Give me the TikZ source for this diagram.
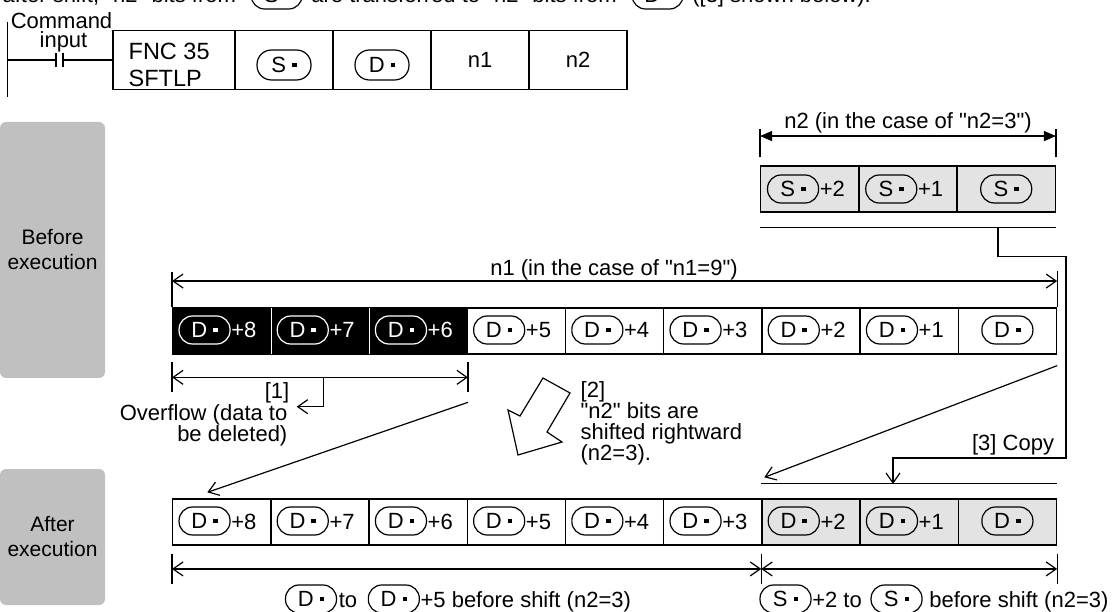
\documentclass[tikz,border=0pt]{standalone}
\usepackage{fontspec}
\setmainfont{Liberation Sans}[Ligatures=TeXOff]
\usepackage{tikz}
\usetikzlibrary{positioning,arrows.meta}

\definecolor{stagegray}{HTML}{C0C0C0}
\definecolor{cellshade}{HTML}{E3E3E3}

% operand symbol: letter plus small square dot
\newcommand{\opsym}[1]{#1\hspace{6pt}\rule[5.5pt]{4.5pt}{4.5pt}}

\begin{document}
\begin{tikzpicture}[
  x=1pt, y=-1pt,
  font=\fontsize{22}{22}\selectfont,
  line width=1.3pt,
  stage/.style={fill=stagegray, rounded corners=6pt, minimum width=105pt, text width=100pt, align=center, inner sep=0pt, font=\fontsize{21}{25}\selectfont},
  insn/.style={draw, line width=1.5pt, minimum width=98pt, minimum height=59pt, inner sep=0pt, text height=16pt, text depth=0pt},
  cell/.style={draw, minimum width=98.2pt, minimum height=46pt, inner sep=0pt},
  opnd/.style={draw, rounded corners=13.5pt, minimum width=51pt, minimum height=28pt, inner sep=0pt, line width=1.2pt},
  lbl/.style={inner sep=0pt, text height=19pt, text depth=3pt},
  txt/.style={inner sep=0pt, font=\fontsize{22}{21}\selectfont},
  dimline/.style={{Straight Barb[length=10pt,width=14pt]}-{Straight Barb[length=10pt,width=14pt]}, line width=1.2pt},
  dimfill/.style={{Triangle[length=12pt,width=10pt]}-{Triangle[length=12pt,width=10pt]}, line width=1.2pt},
  conn/.style={-{Straight Barb[length=10pt,width=14pt]}, line width=1.2pt}
]
% Page frame (pixel grid, y grows downward)
\useasboundingbox (0,0) rectangle (1117,612);
\clip (0,0) rectangle (1117,612);

% Sentence above, cut off by the top edge
\node[lbl, anchor=base west] (hd1) at (2,3) {after shift, "n2" bits from};
\node[opnd, right=14pt of hd1] (hds) {\opsym{S}};
\node[lbl, right=8pt of hds] (hd2) {are transferred to "n2" bits from};
\node[opnd, right=14pt of hd2] (hdd) {\opsym{D}};
\node[lbl, right=8pt of hdd] (hd3) {([3] shown below).};

% Ladder rung
\coordinate (railT) at (7.3,21.7);
\coordinate (railB) at (7.3,96.7);
\coordinate (ctL) at (56,60);
\coordinate (ctR) at (63,60);
\draw (railT) -- (railB);
\node[insn, minimum width=122pt] (fnc) at (174,60) {};
\node[insn] (srcc) at (284,60) {};
\node[insn] (dstc) at (382,60) {};
\node[insn] (n1c) at (480,60) {n1};
\node[insn] (n2c) at (578,60) {n2};
\node[txt, align=left, anchor=west, font=\fontsize{23.5}{27}\selectfont] (fnct) at (128,65) {FNC 35\\SFTLP};
\node[opnd, minimum width=54pt, minimum height=30pt, rounded corners=14.5pt] (srco) at ([yshift=-5pt]srcc.center) {\opsym{S}};
\node[opnd, minimum width=54pt, minimum height=30pt, rounded corners=14.5pt] (dsto) at ([yshift=-5pt]dstc.center) {\opsym{D}};
\draw (railT |- ctL) -- (ctL);
\draw (ctR) -- (fnc.west);
\draw ([yshift=7pt]ctL) -- ([yshift=-7pt]ctL);
\draw ([yshift=7pt]ctR) -- ([yshift=-7pt]ctR);
\node[anchor=base] (cmd) at (61.5,29) {Command};
\node[anchor=base] (inp) at (63.5,48) {input};

% Stage panels
\node[stage, minimum height=256pt] (before) at (52.5,250) {Before\\execution};
\node[stage, minimum height=136pt] (after) at (52.5,537) {After\\execution};

% Source words S+2 .. S
\foreach \k in {0,1,2} {
  \pgfmathsetmacro{\cx}{809.8+(2-\k)*98.2}
  \node[cell, fill=cellshade] (s\k) at (\cx,189) {};
}
\foreach \k in {1,2} {
  \node[opnd] (so\k) at ([xshift=33pt]s\k.west) {\opsym{S}};
  \node[lbl, right=0pt of so\k] (sp\k) {+\k};
}
\node[opnd] (so0) at (s0) {\opsym{S}};

% n2 span
\draw[dimfill] ([yshift=29.3pt]s2.north west) -- ([yshift=29.3pt]s0.north east);
\draw ([yshift=8pt]s2.north west) -- ++(0,-28);
\draw ([yshift=8pt]s0.north east) -- ++(0,-28);
\node[anchor=base] (n2lbl) at (908,129) {n2 (in the case of "n2=3")};
\draw ([yshift=-15pt]s2.south west) -- ([yshift=-15pt]s0.south east);

% Destination words before execution
\foreach \k in {0,...,8} {
  \pgfmathsetmacro{\cx}{221.8+(8-\k)*98.2}
  \ifnum\k>5
    \node[cell, fill=black] (b\k) at (\cx,331) {};
  \else
    \node[cell] (b\k) at (\cx,331) {};
  \fi
}
\foreach \k in {7,8}
  \draw[white, line width=1.2pt] ([yshift=-0.8pt]b\k.north east) -- ([yshift=0.8pt]b\k.south east);
\foreach \k in {1,...,5} {
  \node[opnd] (bo\k) at ([xshift=32.5pt,yshift=1pt]b\k.west) {\opsym{D}};
  \node[lbl, right=0pt of bo\k] (bp\k) {+\k};
}
\foreach \k in {6,7,8} {
  \node[opnd, draw=white, text=white] (bo\k) at ([xshift=32.5pt,yshift=1pt]b\k.west) {\opsym{D}};
  \node[lbl, text=white, right=0pt of bo\k] (bp\k) {+\k};
}
\node[opnd] (bo0) at ([yshift=1pt]b0.center) {\opsym{D}};

% n1 span
\draw[dimline] ([yshift=26.3pt]b8.north west) -- ([yshift=26.3pt]b0.north east);
\draw (b8.north west) -- ++(0,-35);
\draw (b0.north east) -- ++(0,-36.3);
\node[anchor=base] (n1lbl) at (614,276) {n1 (in the case of "n1=9")};

% [1] overflow span
\draw[dimline] ([yshift=-22.7pt]b8.south west) -- ([yshift=-22.7pt]b6.south east);
\draw ([yshift=-7.7pt]b8.south west) -- ++(0,30);
\draw ([yshift=-7.7pt]b6.south east) -- ++(0,30);
\coordinate (ovA) at (323.3,376.7);
\coordinate (ovT) at (296.7,406.7);
\draw[conn] (ovA) |- (ovT);
\node[anchor=base] (t1) at (277,399) {[1]};
\node[txt, align=right, anchor=east] (ovf) at (288,425) {Overflow (data to\\be deleted)};

% [2] shift arrow
\draw[line width=1.2pt, fill=white, line join=miter] (518,455) -- (508,410) -- (520,416) -- (543,378) -- (570,393) -- (547,432) -- (562,442) -- cycle;
\node[txt, align=left, anchor=west] (t2) at (580,423) {[2]\\"n2" bits are\\shifted rightward\\(n2=3).};

% Destination words after execution
\foreach \k in {0,...,8} {
  \pgfmathsetmacro{\cx}{221.8+(8-\k)*98.2}
  \ifnum\k<3
    \node[cell, fill=cellshade] (a\k) at (\cx,522) {};
  \else
    \node[cell] (a\k) at (\cx,522) {};
  \fi
}
\foreach \k in {1,...,8} {
  \node[opnd] (ao\k) at ([xshift=32.5pt,yshift=1pt]a\k.west) {\opsym{D}};
  \node[lbl, right=0pt of ao\k] (ap\k) {+\k};
}
\node[opnd] (ao0) at ([yshift=1pt]a0.center) {\opsym{D}};
\draw ([yshift=15pt]a2.north west) -- ([yshift=15pt]a0.north east);

% Moves between the rows
\draw[conn] ([yshift=-47.7pt]b6.south east) -- ([xshift=35.3pt,yshift=6pt]a8.north west);
\draw[conn] ([yshift=-11pt]b0.south east) -- ([xshift=3pt,yshift=21pt]a2.north west);

% [3] copy route
\coordinate (cpA) at (998,226.7);
\coordinate (cpB) at (1066,256.7);
\coordinate (cpC) at (893,458);
\coordinate (cpT) at (893,484);
\draw[conn] (cpA) |- (cpB) |- (cpC) -- (cpT);
\node[anchor=base east] (t3) at (1058,450) {[3] Copy};

% Spans below the result
\draw[dimline] ([yshift=-23.3pt]a8.south west) -- ([yshift=-23.3pt]a2.south west);
\draw[dimline] ([yshift=-23.3pt]a2.south west) -- ([yshift=-23.3pt]a0.south east);
\draw ([yshift=-8pt]a8.south west) -- ++(0,30);
\draw ([yshift=-8pt]a2.south west) -- ++(0,30);
\draw ([yshift=-8pt]a0.south east) -- ++(0,30);

% Span labels
\node[opnd] (lo1) at (311,599) {\opsym{D}};
\node[lbl, right=1pt of lo1] (lt) {to};
\node[opnd, right=10pt of lt] (lo2) {\opsym{D}};
\node[lbl, right=0pt of lo2] (lp) {+5 before shift (n2=3)};
\node[opnd] (ro1) at (785.5,599) {\opsym{S}};
\node[lbl, right=0pt of ro1] (rp) {+2 to};
\node[opnd, right=8pt of rp] (ro2) {\opsym{S}};
\node[lbl, right=6pt of ro2] (rt) {before shift (n2=3)};

\end{tikzpicture}
\end{document}
